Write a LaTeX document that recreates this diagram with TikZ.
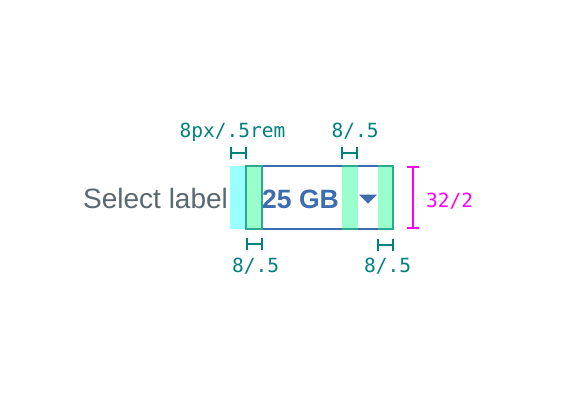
\documentclass[tikz,border=0pt]{standalone}
\usepackage{fontspec}
\setmainfont{Liberation Sans}
\newfontfamily\monofont{DejaVu Sans Mono}
\usetikzlibrary{arrows.meta}
\definecolor{cyanfill}{HTML}{99FFFF}
\definecolor{greenfill}{HTML}{99FFCC}
\definecolor{tealline}{HTML}{2BAA8F}
\definecolor{tealtext}{HTML}{00827C}
\definecolor{boxblue}{HTML}{3D6CB0}
\definecolor{labelgray}{HTML}{5A6872}
\definecolor{magentac}{HTML}{FF00FF}
\begin{document}
\begin{tikzpicture}[x=1pt,y=-1pt,
  dimlabel/.style={font=\monofont\fontsize{19.5}{20}\selectfont, text=tealtext, inner sep=0pt, anchor=base west},
  dimtick/.style={draw=tealtext, line width=2pt, {Bar[width=12pt,line width=2pt]}-{Bar[width=12pt,line width=2pt]}},
  stripedge/.style={draw=tealline, line width=2pt},
]
\useasboundingbox[fill=white] (0,0) rectangle (580,400);

% padding and box
\fill[cyanfill] (230,166) rectangle (246,229);
\fill[white] (246,166) rectangle (393,229);
\fill[greenfill] (246,166) rectangle (262,229);
\fill[greenfill] (342,166) rectangle (358,229);
\fill[greenfill] (378,166) rectangle (393,229);
\draw[boxblue, line width=2pt] (246,166) rectangle (393,229);
\draw[stripedge] (246,166) rectangle (262,229);
\draw[stripedge] (342,166) -- (358,166);
\draw[stripedge] (342,229) -- (358,229);
\draw[stripedge] (378,166) -- (393,166) -- (393,229) -- (378,229);

% texts
\node[font=\fontsize{28}{30}\selectfont, text=labelgray, inner sep=0pt, anchor=base west] (lbl) at (83,208) {Select label};
\node[font=\bfseries\fontsize{26.5}{28}\selectfont, text=boxblue, inner sep=0pt, anchor=base west] (val) at (262,208) {25 GB};
\fill[boxblue] (359,194.5) -- (377,194.5) -- (368,203.5) -- cycle;

% dimension ticks
\coordinate (t1a) at (230,152.5); \coordinate (t1b) at (247,152.5);
\coordinate (t2a) at (341,152.5); \coordinate (t2b) at (358,152.5);
\coordinate (t3a) at (246,244);   \coordinate (t3b) at (263,244);
\coordinate (t4a) at (377,244.5); \coordinate (t4b) at (394,244.5);
\draw[dimtick] (t1a) -- (t1b);
\draw[dimtick] (t2a) -- (t2b);
\draw[dimtick] (t3a) -- (t3b);
\draw[dimtick] (t4a) -- (t4b);

\node[dimlabel] (d1) at (179.5,137.5) {8px/.5rem};
\node[dimlabel] (d2) at (331.5,137.5) {8/.5};
\node[dimlabel] (d3) at (232,272) {8/.5};
\node[dimlabel] (d4) at (364,272) {8/.5};

% height dimension
\coordinate (ha) at (413,166); \coordinate (hb) at (413,229);
\draw[magentac, line width=2pt, {Bar[width=12pt,line width=2pt]}-{Bar[width=12pt,line width=2pt]}] (ha) -- (hb);
\node[dimlabel, text=magentac] (hl) at (426,207) {32/2};
\end{tikzpicture}
\end{document}
